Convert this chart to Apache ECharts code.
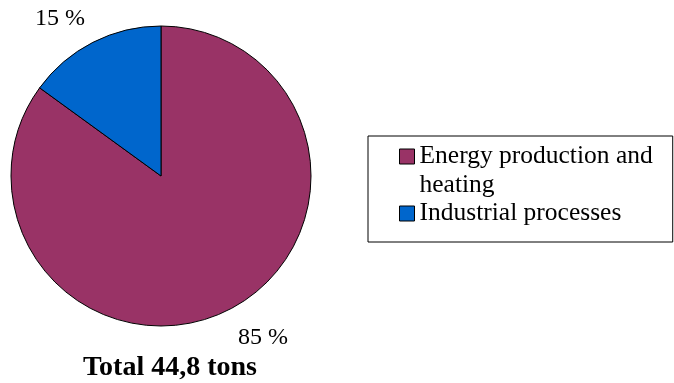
<!DOCTYPE html>
<html>
<head>
<meta charset="utf-8">
<script src="https://cdn.jsdelivr.net/npm/echarts@6/dist/echarts.min.js"></script>
<style>html,body{margin:0;padding:0;background:#fff;}#c{width:674px;height:383px;}</style>
</head>
<body>
<div id="c"></div>
<script>
var categories = ['Energy production and\nheating', 'Industrial processes'];
var shares = [85, 15];
var sliceColors = ['#993366', '#0066CC'];
var totalLabel = 'Total 44,8 tons';

var chart = echarts.init(document.getElementById('c'), null, {renderer: 'canvas'});
var FONT = 'Liberation Serif';
var LH = 29;
var labelPos = [[263, 338], [60, 19]];

chart.setOption({
  animation: false,
  backgroundColor: '#fff',
  title: {
    text: totalLabel,
    left: 83, top: 354, padding: 0,
    textStyle: {fontFamily: FONT, fontSize: 28, fontWeight: 'bold', color: '#000'}
  },
  legend: {
    orient: 'vertical',
    left: 368, top: 136,
    padding: [-23, 20, 14, 31],
    itemWidth: 15, itemHeight: 15, itemGap: -1,
    borderColor: '#000', borderWidth: 1,
    icon: 'rect',
    itemStyle: {borderColor: '#000', borderWidth: 1},
    textStyle: {fontFamily: FONT, fontSize: 25.5, lineHeight: LH, color: '#000'},
    formatter: function (name) {
      return name.indexOf('\n') >= 0 ? ' \n' + name : name;
    },
    data: categories
  },
  series: [{
    type: 'pie',
    center: [161, 176],
    radius: 150,
    startAngle: 90,
    clockwise: true,
    data: categories.map(function (n, i) {
      return {name: n, value: shares[i], itemStyle: {color: sliceColors[i]}};
    }),
    itemStyle: {borderColor: '#000', borderWidth: 1},
    label: {
      show: true,
      position: 'inside',
      formatter: function (p) { return p.value + ' %'; },
      fontFamily: FONT, fontSize: 24, color: '#000'
    },
    labelLine: {show: false},
    labelLayout: function (p) {
      var pos = labelPos[p.dataIndex];
      return {x: pos[0], y: pos[1], align: 'center', verticalAlign: 'middle'};
    },
    emphasis: {disabled: true}
  }]
});
</script>
</body>
</html>
